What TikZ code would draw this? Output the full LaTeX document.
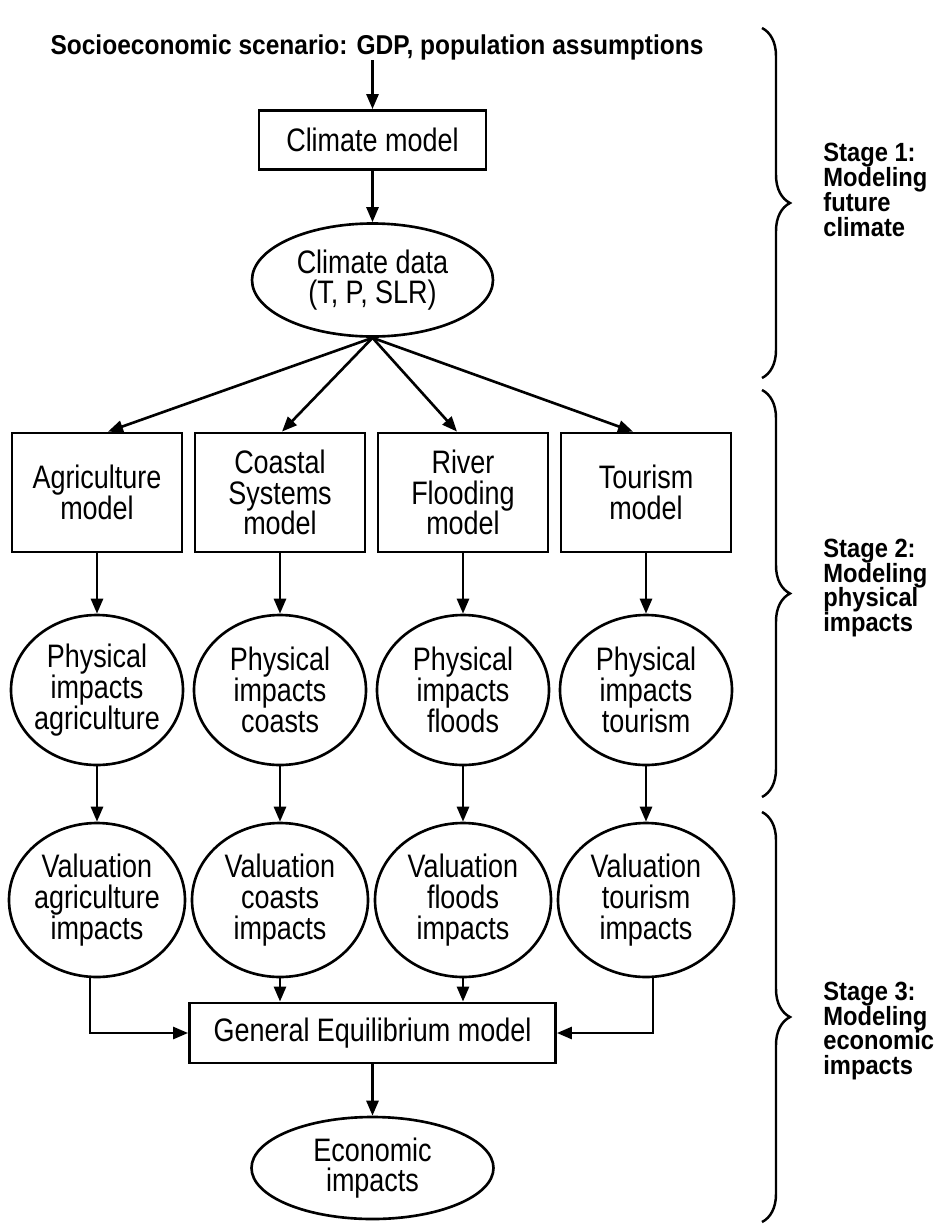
\documentclass[tikz,border=0pt]{standalone}
\usepackage{fontspec}
\setmainfont{Liberation Sans}[FakeStretch=0.83]
\newfontfamily\stagefont{Liberation Sans}[FakeStretch=0.9]
\usetikzlibrary{arrows.meta,shapes.geometric,decorations.pathreplacing}
\tikzset{
  >={Triangle[length=0.3cm,width=0.24cm]},
  modelbox/.style={rectangle, draw, line width=1.6pt, align=center, inner sep=0pt},
  impactblob/.style={ellipse, draw, line width=1.5pt, align=center, inner xsep=-3pt, inner ysep=0pt},
  flow/.style={->, line width=1.5pt},
  stagebrace/.style={decorate, decoration={brace, amplitude=0.56cm}, line width=1.4pt},
  stagelabel/.style={anchor=west, align=left, inner sep=0pt,
                     font=\stagefont\bfseries\fontsize{15}{14.2}\selectfont}
}

\begin{document}
\begin{tikzpicture}[font=\fontsize{18.5}{17.5}\selectfont]
    \useasboundingbox (0,0) rectangle (18.86,-24.5);
    % Stage 1: scenario and climate
    \node (scenario) at (7.54,-0.94) [inner sep=0pt, font=\stagefont\bfseries\fontsize{15.5}{16}\selectfont]
          {Socioeconomic scenario: GDP, population assumptions};
    \node (climmodel) at (7.45,-2.8) [modelbox, minimum width=4.54cm, minimum height=1.18cm] {Climate model};
    \node (climdata) at (7.45,-5.6) [impactblob, minimum width=4.82cm, minimum height=2.26cm] {Climate data\\(T, P, SLR)};

    % Stage 2: sector models and physical impacts
    \node (agrimodel)  at (1.94,-9.85)  [modelbox, minimum width=3.4cm, minimum height=2.38cm] {Agriculture\\model};
    \node (coastmodel) at (5.60,-9.85)  [modelbox, minimum width=3.4cm, minimum height=2.38cm] {Coastal\\Systems\\model};
    \node (rivermodel) at (9.26,-9.85)  [modelbox, minimum width=3.4cm, minimum height=2.38cm] {River\\Flooding\\model};
    \node (tourmodel)  at (12.92,-9.85) [modelbox, minimum width=3.4cm, minimum height=2.38cm] {Tourism\\model};

    \node (physagri)  at (1.94,-13.8)  [impactblob, minimum width=3.44cm, minimum height=3cm] {Physical\\impacts\\agriculture};
    \node (physcoast) at (5.60,-13.8)  [impactblob, minimum width=3.44cm, minimum height=3cm] {Physical\\impacts\\coasts};
    \node (physriver) at (9.26,-13.8)  [impactblob, minimum width=3.44cm, minimum height=3cm] {Physical\\impacts\\floods};
    \node (phystour)  at (12.92,-13.8) [impactblob, minimum width=3.44cm, minimum height=3cm] {Physical\\impacts\\tourism};

    % Stage 3: valuation and general equilibrium
    \node (valagri)  at (1.94,-18.0)  [impactblob, minimum width=3.52cm, minimum height=3.08cm] {Valuation\\agriculture\\impacts};
    \node (valcoast) at (5.60,-18.0)  [impactblob, minimum width=3.52cm, minimum height=3.08cm] {Valuation\\coasts\\impacts};
    \node (valriver) at (9.26,-18.0)  [impactblob, minimum width=3.52cm, minimum height=3.08cm] {Valuation\\floods\\impacts};
    \node (valtour)  at (12.92,-18.0) [impactblob, minimum width=3.52cm, minimum height=3.08cm] {Valuation\\tourism\\impacts};

    \node (gem)  at (7.45,-20.66) [modelbox, minimum width=7.32cm, minimum height=1.2cm] {General Equilibrium model};
    \node (econ) at (7.45,-23.36) [impactblob, minimum width=4.84cm, minimum height=2.04cm] {Economic\\impacts};

    % Connectors
    \draw [flow] (scenario.south -| climmodel.north) -- (climmodel.north);
    \draw [flow] (climmodel) -- (climdata);
    \draw [flow] (climdata.south) -- ([xshift=0.22cm]agrimodel.north);
    \draw [flow] (climdata.south) -- ([xshift=0.04cm]coastmodel.north);
    \draw [flow] (climdata.south) -- ([xshift=-0.12cm]rivermodel.north);
    \draw [flow] (climdata.south) -- ([xshift=-0.26cm]tourmodel.north);
    \foreach \sector in {agri,coast,river,tour} {
        \draw [flow] (\sector model) -- (phys\sector);
        \draw [flow] (phys\sector) -- (val\sector);
    }
    \draw [flow] (valagri.-95) |- (gem.west);
    \draw [flow] (valcoast.south) -- (valcoast.south |- gem.north);
    \draw [flow] (valriver.south) -- (valriver.south |- gem.north);
    \draw [flow] (valtour.-85) |- (gem.east);
    \draw [flow] (gem) -- (econ);

    % Stage braces and labels
    \draw [stagebrace] (15.24,-0.56) -- (15.24,-7.56);
    \draw [stagebrace] (15.24,-7.8) -- (15.24,-15.94);
    \draw [stagebrace] (15.24,-16.24) -- (15.24,-24.44);
    \node (stage1) at (16.46,-3.8)   [stagelabel] {Stage 1:\\Modeling\\future\\climate};
    \node (stage2) at (16.46,-11.76) [stagelabel] {Stage 2:\\Modeling\\physical\\impacts};
    \node (stage3) at (16.46,-20.62) [stagelabel] {Stage 3:\\Modeling\\economic\\impacts};
\end{tikzpicture}
\end{document}
